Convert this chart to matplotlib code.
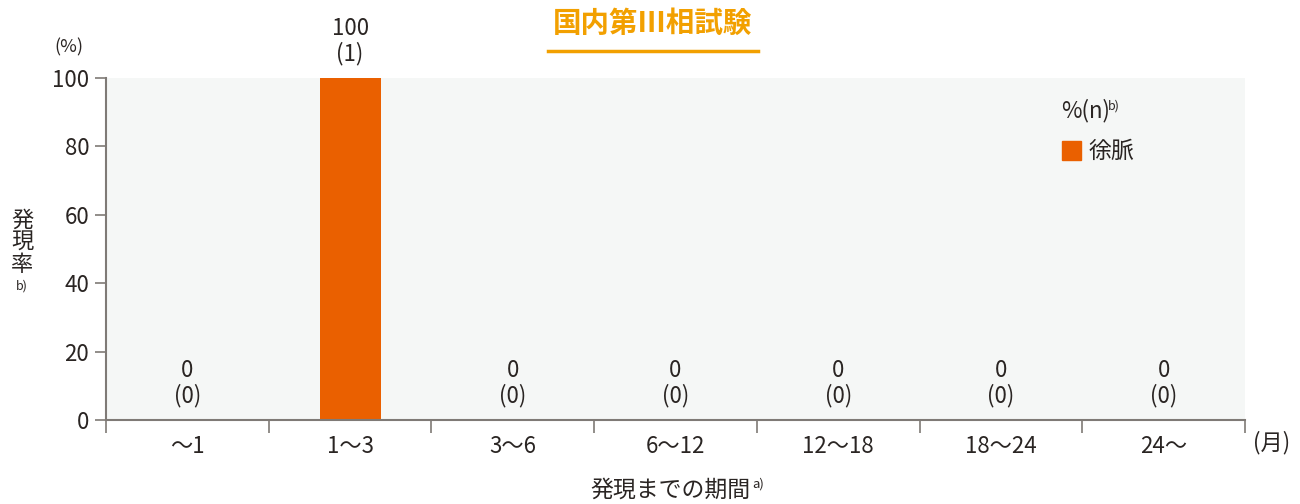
import matplotlib.pyplot as plt
import numpy as np

plt.rcParams['font.family'] = ['Noto Sans CJK JP', 'DejaVu Sans']

categories = ['〜1', '1〜3', '3〜6', '6〜12', '12〜18', '18〜24', '24〜']
rates = [0, 100, 0, 0, 0, 0, 0]
counts = [0, 1, 0, 0, 0, 0, 0]

txt = '#2a2523'
spine = '#7f7a76'
bar_c = '#ea6000'
title_c = '#f2a000'

fig = plt.figure(figsize=(13, 5.04), dpi=100)
ax = fig.add_axes([106/1300, 1-420/504, 1139/1300, 342/504])
ax.set_facecolor('#f5f7f6')

x = np.arange(len(categories))
ax.bar(x, rates, width=0.375, color=bar_c, zorder=2)
ax.set_xlim(-0.5, len(categories)-0.5)
ax.set_ylim(0, 100)

for xi, r, n in zip(x, rates, counts):
    ax.annotate(f'{r}\n({n})', (xi, r), xytext=(0, 9), textcoords='offset points',
                ha='center', va='bottom', fontsize=16, color=txt, linespacing=1.1,
                annotation_clip=False)

for s in ['top', 'right']:
    ax.spines[s].set_visible(False)
for s in ['left', 'bottom']:
    ax.spines[s].set_color(spine)
    ax.spines[s].set_linewidth(1.5)

ax.set_yticks([0, 20, 40, 60, 80, 100])
ax.tick_params(axis='y', length=8, width=1.2, color=spine, labelsize=16, labelcolor=txt, pad=4)
ax.set_xticks(np.arange(-0.5, len(categories)))
ax.set_xticklabels([])
ax.tick_params(axis='x', length=9, width=1.2, color=spine)
for xi, c in zip(x, categories):
    ax.text(xi, -0.045, c, transform=ax.get_xaxis_transform(), ha='center', va='top',
            fontsize=16, color=txt)

fig.text(1272/1300, 1-443/504, '(月)', ha='center', va='center', fontsize=16, color=txt)
fig.text(69/1300, 1-47/504, '(%)', ha='center', va='center', fontsize=13, color=txt)
fig.text(22/1300, 1-242/504, '発\n現\n率', ha='center', va='center', fontsize=16,
         color=txt, linespacing=0.95)
fig.text(22/1300, 1-286/504, 'b)', ha='center', va='center', fontsize=9, color=txt)
fig.text(670/1300, 1-490/504, '発現までの期間', ha='center', va='center',
         fontsize=16.5, color=txt)
fig.text(752/1300, 1-484/504, 'a)', ha='left', va='center', fontsize=9.5, color=txt)

# title with underline
fig.text(653/1300, 1-24/504, '国内第Ⅲ相試験', ha='center', va='center', fontsize=20.5,
         fontweight='bold', color=title_c)
fig.add_artist(plt.Line2D([548/1300, 758/1300], [1-51/504, 1-51/504], color=title_c, lw=2.5))

# legend
ax.text(1061/1300, 1-111/504, '%(n)', transform=fig.transFigure, ha='left', va='center',
        fontsize=16, color=txt)
ax.text(1108/1300, 1-106/504, 'b)', transform=fig.transFigure, ha='left', va='center',
        fontsize=9, color=txt)
fig.add_artist(plt.Rectangle((1062/1300, 1-160/504), 19/1300, 19/504, color=bar_c,
                             transform=fig.transFigure))
fig.text(1089/1300, 1-151/504, '徐脈', ha='left', va='center', fontsize=16.5, color=txt)

fig.savefig('out.png', dpi=100)
